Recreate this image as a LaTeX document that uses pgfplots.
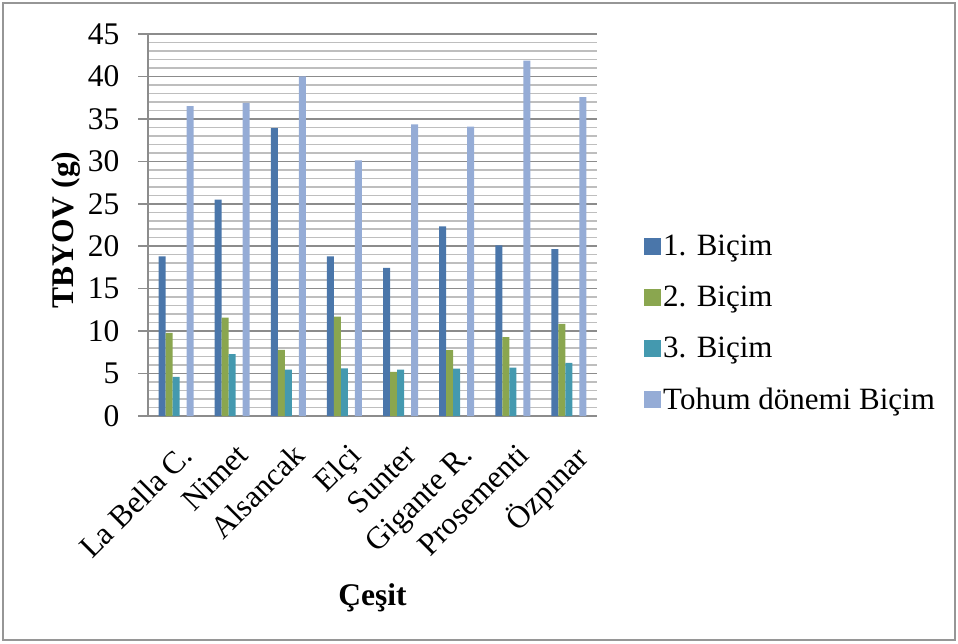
\documentclass[border=0pt]{standalone}
\usepackage{fontspec}
\setmainfont{Liberation Serif}
\usepackage{pgfplots}
\pgfplotsset{compat=1.18}
\definecolor{c1}{HTML}{4A76AA}
\definecolor{c2}{HTML}{8AA64F}
\definecolor{c3}{HTML}{4499AF}
\definecolor{c4}{HTML}{95ACD6}
\definecolor{framegray}{HTML}{969696}
\definecolor{majgray}{HTML}{8C8C8C}
\definecolor{mingray}{HTML}{BEBEBE}
\definecolor{axgray}{HTML}{8C8C8C}
\pgfplotsset{
  mybar/.style={ybar, bar width=7pt, draw=none, fill=#1,
    legend image code/.code={\fill[#1] (0pt,-8.5pt) rectangle (17pt,8.5pt);}},
}
\begin{document}
\begin{tikzpicture}
\useasboundingbox (0,0) rectangle (958pt,643pt);
\draw[color=framegray, line width=1.5pt] (3pt,3pt) rectangle (955pt,640pt);
\begin{axis}[
  at={(148pt,227pt)}, anchor=south west, scale only axis,
  width=449pt, height=382pt,
  xmin=-0.5, xmax=7.5, ymin=0, ymax=45,
  ytick={0,5,...,45}, minor y tick num=4,
  ymajorgrids, yminorgrids,
  major grid style={color=majgray, line width=1.5pt},
  minor grid style={color=mingray, line width=1.5pt},
  axis x line*=bottom, axis y line*=left,
  axis line style={color=axgray, line width=1.5pt},
  xtick={0,...,7},
  xticklabels={La Bella C., Nimet, Alsancak, Elçi, Sunter, Gigante R., Prosementi, Özpınar},
  x tick label style={rotate=45, anchor=north east, xshift=-6pt, yshift=-10pt, font=\fontsize{31.5}{37}\selectfont},
  y tick label style={xshift=-15pt, font=\fontsize{31.5}{37}\selectfont},
  xtick style={draw=none},
  ytick style={color=axgray, line width=1.5pt},
  tick align=outside, major tick length=10pt, minor tick length=0pt,
  /pgf/number format/assume math mode=true,
  xlabel={\textbf{Çeşit}},
  ylabel={\textbf{TBYOV (g)}},
  xlabel style={at={(axis description cs:0.5,-0.476)}, anchor=center, font=\fontsize{31.5}{37}\selectfont},
  ylabel style={at={(axis description cs:-0.183,0.487)}, anchor=center, font=\fontsize{31.5}{37}\selectfont},
  legend style={at={(1.098,0.484)}, anchor=north west, draw=none, fill=none,
    font=\fontsize{31}{37}\selectfont, row sep=25pt, cells={anchor=west},
    /tikz/every even column/.append style={column sep=7pt}},
]
\addplot[mybar=c1, bar shift=-14pt] coordinates {(0,18.8) (1,25.5) (2,33.9) (3,18.8) (4,17.45) (5,22.35) (6,20.1) (7,19.65)};
\addplot[mybar=c2, bar shift=-7pt] coordinates {(0,9.8) (1,11.6) (2,7.8) (3,11.7) (4,5.2) (5,7.76) (6,9.3) (7,10.86)};
\addplot[mybar=c3, bar shift=0pt] coordinates {(0,4.6) (1,7.3) (2,5.45) (3,5.6) (4,5.45) (5,5.57) (6,5.7) (7,6.27)};
\addplot[mybar=c4, bar shift=14pt] coordinates {(0,36.5) (1,36.9) (2,40.0) (3,30.1) (4,34.35) (5,34.1) (6,41.85) (7,37.57)};
\legend{1. Biçim, 2. Biçim, 3. Biçim, Tohum dönemi Biçim}
\end{axis}
\end{tikzpicture}
\end{document}
